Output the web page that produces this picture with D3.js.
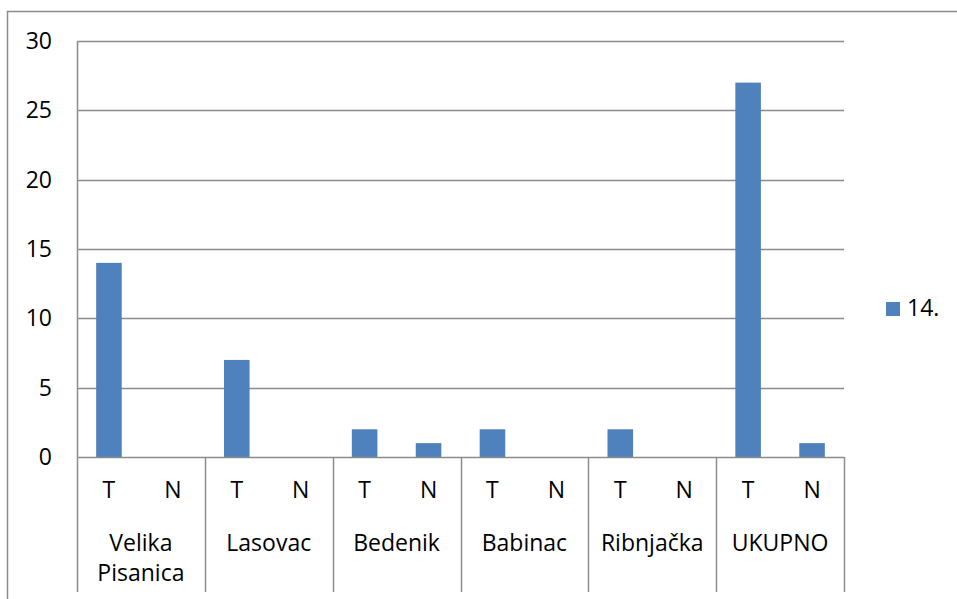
<!DOCTYPE html>
<html>
<head>
<meta charset="utf-8">
<script src="https://d3js.org/d3.v7.min.js"></script>
<style>
  body { margin: 0; background: #fff; }
  svg text { font-family: "Open Sans", sans-serif; font-size: 23px; fill: #000; }
</style>
</head>
<body>
<svg width="957" height="599"></svg>
<script>
// data
var groups = ["Velika Pisanica", "Lasovac", "Bedenik", "Babinac", "Ribnjačka", "UKUPNO"];
var subLabels = ["T", "N"];
var valuesT = [14, 7, 2, 2, 2, 27];
var valuesN = [0, 0, 1, 0, 0, 1];
var seriesName = "14.";
var yTicks = [0, 5, 10, 15, 20, 25, 30];

var svg = d3.select("svg");
var plotLeft = 77, plotRight = 844, plotTop = 41, plotBottom = 457;
var grey = "#8c8c8c";

// outer chart frame (cropped)
svg.append("path")
    .attr("d", "M7.5,599 V11.5 H957")
    .attr("fill", "none").attr("stroke", grey).attr("stroke-width", 1.5);

var y = d3.scaleLinear().domain([0, 30]).range([plotBottom, plotTop]);
var x0 = d3.scaleBand().domain(groups).range([plotLeft, plotRight]);
var x1 = d3.scaleBand().domain(subLabels).range([0, x0.bandwidth()]).paddingInner(0.6).paddingOuter(0.3);

// gridlines
svg.append("g").selectAll("line").data(yTicks.filter(d => d > 0)).enter().append("line")
    .attr("x1", plotLeft).attr("x2", plotRight)
    .attr("y1", d => Math.round(y(d)) + 0.5).attr("y2", d => Math.round(y(d)) + 0.5)
    .attr("stroke", grey).attr("stroke-width", 1.5);

// y labels
svg.append("g").selectAll("text").data(yTicks).enter().append("text")
    .attr("x", 52).attr("y", d => y(d) + 8)
    .attr("text-anchor", "end")
    .text(d => d);

// bars
var flat = [];
groups.forEach(function (g, i) {
    flat.push({ g: g, s: "T", v: valuesT[i] });
    flat.push({ g: g, s: "N", v: valuesN[i] });
});
svg.append("g").selectAll("rect").data(flat).enter().append("rect")
    .attr("x", d => x0(d.g) + x1(d.s))
    .attr("width", x1.bandwidth())
    .attr("y", d => y(d.v))
    .attr("height", d => y(0) - y(d.v))
    .attr("fill", "#4f81bd");

// x axis line and group dividers
svg.append("line")
    .attr("x1", plotLeft).attr("x2", plotRight)
    .attr("y1", plotBottom + 0.5).attr("y2", plotBottom + 0.5)
    .attr("stroke", grey).attr("stroke-width", 1.5);
var divs = groups.map(g => x0(g)).concat([plotRight]);
svg.append("g").selectAll("line").data(divs).enter().append("line")
    .attr("x1", d => Math.round(d) + 0.5).attr("x2", d => Math.round(d) + 0.5)
    .attr("y1", (d, i) => i === 0 ? plotTop : plotBottom)
    .attr("y2", 592)
    .attr("stroke", grey).attr("stroke-width", 1.5);

// sub labels
svg.append("g").selectAll("text").data(flat).enter().append("text")
    .attr("x", d => x0(d.g) + x1(d.s) + x1.bandwidth() / 2)
    .attr("y", 498)
    .attr("text-anchor", "middle")
    .text(d => d.s);

// group labels (wrapped)
var gl = svg.append("g").selectAll("text").data(groups).enter().append("text")
    .attr("x", d => x0(d) + x0.bandwidth() / 2)
    .attr("y", 551)
    .attr("text-anchor", "middle");
gl.each(function (d) {
    var words = d.split(" ");
    var t = d3.select(this);
    words.forEach(function (w, i) {
        t.append("tspan").attr("x", x0(d) + x0.bandwidth() / 2).attr("dy", i === 0 ? 0 : 30).text(w);
    });
});

// legend
svg.append("rect").attr("x", 886).attr("y", 302).attr("width", 14).attr("height", 14).attr("fill", "#4f81bd");
svg.append("text").attr("x", 907).attr("y", 316).text(seriesName);
</script>
</body>
</html>
